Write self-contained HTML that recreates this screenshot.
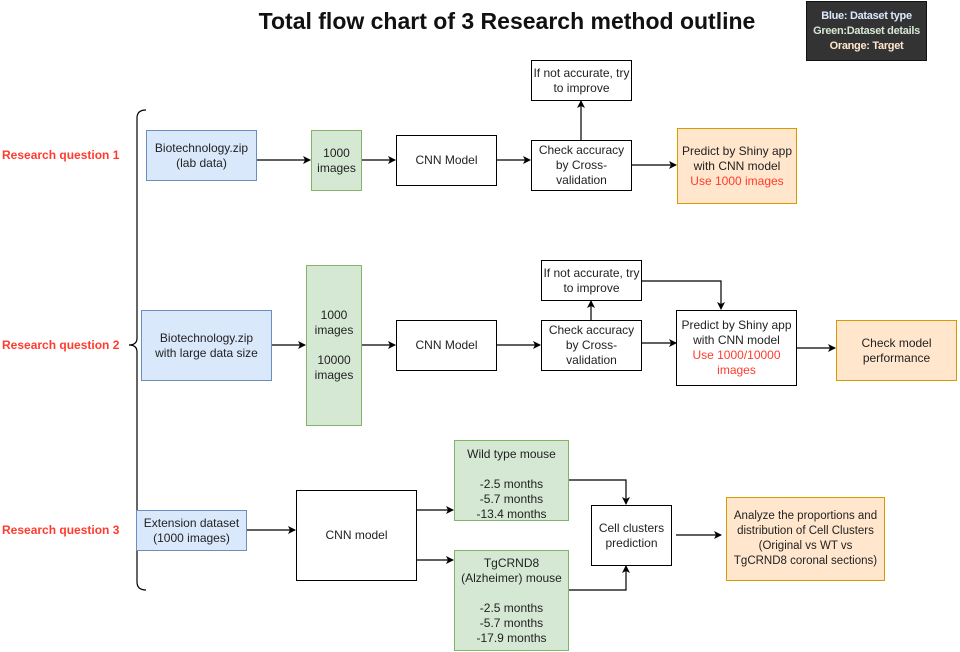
<!DOCTYPE html>
<html><head><meta charset="utf-8"><style>
body{margin:0;width:960px;height:652px;background:#fff;position:relative;font-family:"Liberation Sans",sans-serif;overflow:hidden}
.b{position:absolute;box-sizing:border-box;border:1px solid #000;display:flex;align-items:center;justify-content:center;text-align:center;font-size:12px;line-height:15px;color:#222;background:#fff}
.bl{background:#dae8fc;border-color:#6c8ebf}
.gr{background:#d5e8d4;border-color:#82b366}
.or{background:#ffe6cc;border-color:#d79b00}
.r{color:#ff3b2f}
.q{position:absolute;left:2px;color:#ff3b2f;font-weight:bold;font-size:12px}
svg{position:absolute;left:0;top:0}
</style></head><body>
<div style="position:absolute;left:200px;top:8px;width:614px;text-align:center;font-weight:bold;font-size:23px;color:#111">Total flow chart of 3 Research method outline</div>
<div class="b" style="left:806px;top:1px;width:121px;height:60px;background:#333;border-color:#111;font-weight:bold;font-size:11px;line-height:15px;white-space:nowrap;letter-spacing:-0.3px"><div><span style="color:#dae8fc">Blue: Dataset type</span><br><span style="color:#d5e8d4">Green:Dataset details</span><br><span style="color:#ffe6cc">Orange: Target</span></div></div>

<div class="q" style="top:148px">Research question 1</div>
<div class="q" style="top:338px">Research question 2</div>
<div class="q" style="top:523px">Research question 3</div>

<svg width="960" height="652">
<defs><marker id="a" markerWidth="8" markerHeight="8" refX="7" refY="4" orient="auto" markerUnits="userSpaceOnUse"><path d="M0,0 L8,4 L0,8 L2,4 z" fill="#000"/></marker></defs>
<path d="M146,110 Q137,110 137,118 L137,338 Q137,345 129,345 Q137,345 137,352 L137,582 Q137,590 146,590" fill="none" stroke="#000" stroke-width="1.2"/>
<g stroke="#000" stroke-width="1.2" fill="none" marker-end="url(#a)">
<path d="M256,160 L310,160"/><path d="M361,160 L395,160"/><path d="M496,160 L530,160"/>
<path d="M581,140 L581,101"/><path d="M632,165 L676,165"/>
<path d="M271,345 L305,345"/><path d="M361,345 L395,345"/><path d="M496,345 L540,345"/>
<path d="M591,320 L591,301"/><path d="M641,343 L676,343"/>
<path d="M641,281 L721,281 L721,309"/><path d="M796,348 L835,348"/>
<path d="M246,530 L295,530"/><path d="M416,510 L453,510"/><path d="M416,560 L453,560"/>
<path d="M568,480 L626,480 L626,504"/><path d="M568,590 L626,590 L626,566"/>
<path d="M676,535 L721,535"/>
</g></svg>

<div class="b bl" style="left:146px;top:130px;width:111px;height:51px">Biotechnology.zip<br>(lab data)</div>
<div class="b gr" style="left:311px;top:130px;width:51px;height:61px">1000<br>images</div>
<div class="b" style="left:396px;top:135px;width:101px;height:51px">CNN Model</div>
<div class="b" style="left:531px;top:140px;width:101px;height:51px">Check accuracy<br>by Cross-<br>validation</div>
<div class="b" style="left:531px;top:60px;width:101px;height:41px">If not accurate, try<br>to improve</div>
<div class="b or" style="left:677px;top:128px;width:120px;height:76px"><div>Predict by Shiny app<br>with CNN model<br><span class="r">Use 1000 images</span></div></div>

<div class="b bl" style="left:141px;top:310px;width:131px;height:71px">Biotechnology.zip<br>with large data size</div>
<div class="b gr" style="left:306px;top:265px;width:56px;height:161px"><div>1000<br>images<br><br>10000<br>images</div></div>
<div class="b" style="left:396px;top:320px;width:101px;height:51px">CNN Model</div>
<div class="b" style="left:541px;top:320px;width:101px;height:51px">Check accuracy<br>by Cross-<br>validation</div>
<div class="b" style="left:541px;top:260px;width:101px;height:41px">If not accurate, try<br>to improve</div>
<div class="b" style="left:676px;top:310px;width:121px;height:76px"><div>Predict by Shiny app<br>with CNN model<br><span class="r">Use 1000/10000<br>images</span></div></div>
<div class="b or" style="left:836px;top:320px;width:121px;height:61px">Check model<br>performance</div>

<div class="b bl" style="left:136px;top:510px;width:111px;height:41px">Extension dataset<br>(1000 images)</div>
<div class="b" style="left:296px;top:490px;width:121px;height:91px">CNN model</div>
<div class="b gr" style="left:454px;top:440px;width:115px;height:81px;align-items:flex-start;padding-top:6px"><div>Wild type mouse<br><br>-2.5 months<br>-5.7 months<br>-13.4 months</div></div>
<div class="b gr" style="left:454px;top:550px;width:115px;height:101px"><div>TgCRND8<br>(Alzheimer) mouse<br><br>-2.5 months<br>-5.7 months<br>-17.9 months</div></div>
<div class="b" style="left:591px;top:505px;width:81px;height:61px">Cell clusters<br>prediction</div>
<div class="b or" style="left:726px;top:497px;width:159px;height:84px;white-space:nowrap;font-size:11.5px">Analyze the proportions and<br>distribution of Cell Clusters<br>(Original vs WT vs<br>TgCRND8 coronal sections)</div>
</body></html>
